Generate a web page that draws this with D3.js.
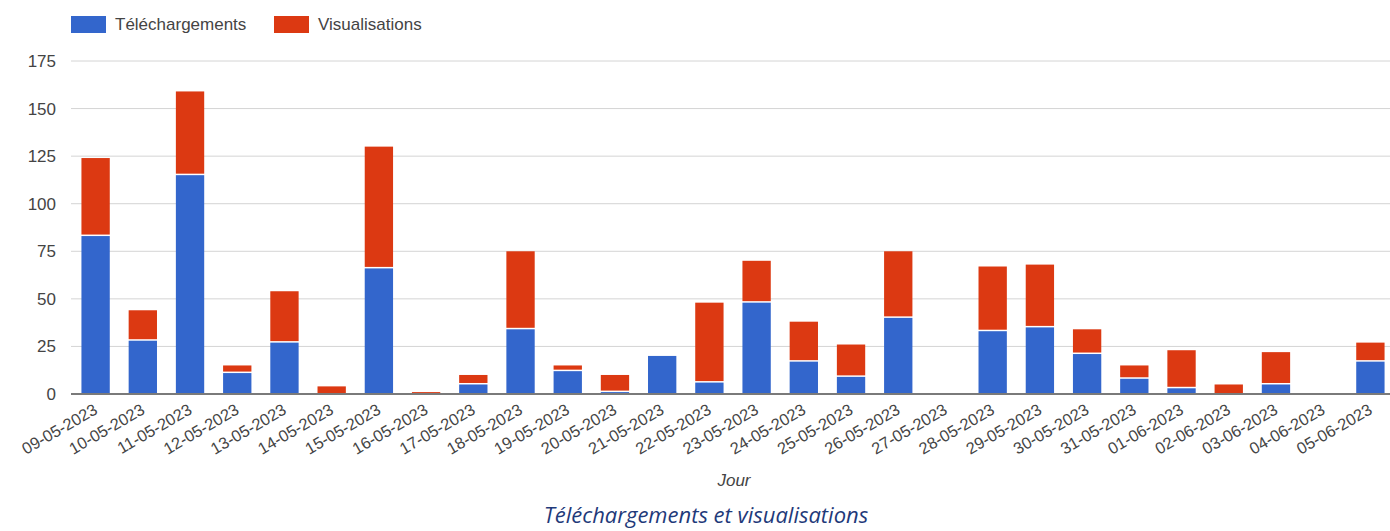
<!DOCTYPE html>
<html>
<head>
<meta charset="utf-8">
<script src="https://cdnjs.cloudflare.com/ajax/libs/d3/7.8.5/d3.min.js"></script>
<style>
  body { margin: 0; background: #fff; }
  svg { display: block; }
</style>
</head>
<body>
<script>
// values
let days = ["09-05-2023","10-05-2023","11-05-2023","12-05-2023","13-05-2023","14-05-2023","15-05-2023",
  "16-05-2023","17-05-2023","18-05-2023","19-05-2023","20-05-2023","21-05-2023","22-05-2023",
  "23-05-2023","24-05-2023","25-05-2023","26-05-2023","27-05-2023","28-05-2023","29-05-2023",
  "30-05-2023","31-05-2023","01-06-2023","02-06-2023","03-06-2023","04-06-2023","05-06-2023"]
let telechargements = [83,28,115,11,27,0,66,0,5,34,12,1,20,6,48,17,9,40,0,33,35,21,8,3,0,5,0,17]
let visualisations  = [41,16,44,4,27,4,64,1,5,41,3,9,0,42,22,21,17,35,0,34,33,13,7,20,5,17,0,10]
let yTicks = [0,25,50,75,100,125,150,175]
let seriesNames = ["Téléchargements","Visualisations"]
let colors = ["#3366cc","#dc3912"]

let w = 1390, h = 531
let font = "'Liberation Sans', Arial, sans-serif"

let rows = days.map((d,i)=>({day: d, t: telechargements[i], v: visualisations[i]}))
let stacked = d3.stack().keys(["t","v"])(rows)

let x = d3.scaleBand().domain(days).range([72, 1394]).paddingInner(0.4).paddingOuter(0.2)
let y = d3.scaleLinear().domain([0,175]).range([394, 61])

let svg = d3.select("body").append("svg").attr("width", w).attr("height", h)

// gridlines
svg.append("g").selectAll("line")
    .data(yTicks.filter(t=>t>0))
    .enter().append("line")
    .attr("x1", 71).attr("x2", w)
    .attr("y1", d=>y(d)).attr("y2", d=>y(d))
    .attr("stroke", "#d4d4d4").attr("stroke-width", 1)

// y labels
svg.append("g").selectAll("text")
    .data(yTicks)
    .enter().append("text")
    .attr("x", 56).attr("y", d=>y(d)+6)
    .attr("text-anchor", "end")
    .attr("font-family", font).attr("font-size", 17)
    .attr("fill", "#444")
    .text(d=>d)

// bars
svg.append("g").selectAll("g")
    .data(stacked)
    .enter().append("g")
    .attr("fill", (d,i)=>colors[i])
    .selectAll("rect")
    .data(d=>d.filter(s=>s[1]>s[0]))
    .enter().append("rect")
    .attr("x", d=>x(d.data.day))
    .attr("width", x.bandwidth())
    .attr("y", d=>y(d[1]))
    .attr("height", d=>y(d[0])-y(d[1]) - (d[0]>0 ? 1.5 : 0))

// baseline
svg.append("line")
    .attr("x1", 71).attr("x2", w)
    .attr("y1", y(0)).attr("y2", y(0))
    .attr("stroke", "#7a7a7a").attr("stroke-width", 2)

// x labels
svg.append("g").selectAll("text")
    .data(days)
    .enter().append("text")
    .attr("transform", d=>"translate(" + (x(d)+x.bandwidth()/2+3) + "," + 413 + ") rotate(-30)")
    .attr("text-anchor", "end")
    .attr("font-family", font).attr("font-size", 16.4)
    .attr("fill", "#444")
    .text(d=>d)

svg.append("text")
    .attr("x", 734).attr("y", 486)
    .attr("text-anchor", "middle")
    .attr("font-family", font).attr("font-size", 17)
    .attr("font-style", "italic")
    .attr("fill", "#444")
    .text("Jour")

// legend
let legend = svg.append("g")
let lx = [71, 274]
seriesNames.forEach((n,i)=>{
    legend.append("rect")
        .attr("x", lx[i]).attr("y", 16)
        .attr("width", 35).attr("height", 17)
        .attr("fill", colors[i])
    legend.append("text")
        .attr("x", lx[i]+44).attr("y", 30)
        .attr("font-family", font).attr("font-size", 17)
        .attr("fill", "#444")
        .text(n)
})

// caption
svg.append("text")
    .attr("x", 706).attr("y", 523)
    .attr("text-anchor", "middle")
    .attr("font-family", "'Open Sans', 'Noto Sans', sans-serif").attr("font-size", 22)
    .attr("font-style", "italic")
    .attr("fill", "#1f3a7a")
    .text("Téléchargements et visualisations")
</script>
</body>
</html>
